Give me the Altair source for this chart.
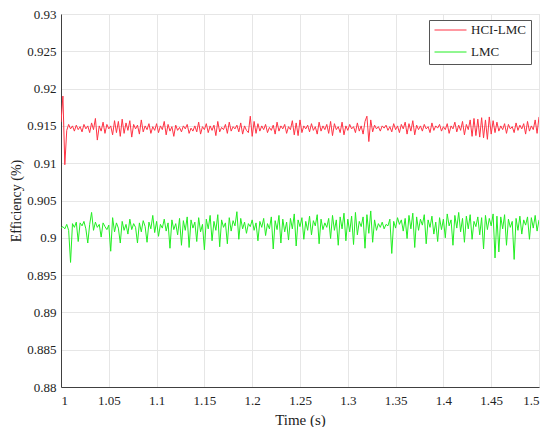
import altair as alt
import pandas as pd

# Sampled every 0.002 s from t = 1.000 to 1.500
hci_lmc = [
    0.9155, 0.9190, 0.9098, 0.9144, 0.9152, 0.9146, 0.9150, 0.9143, 0.9151, 0.9145,
    0.9149, 0.9142, 0.9152, 0.9146, 0.9150, 0.9141, 0.9154, 0.9145, 0.9160, 0.9131,
    0.9150, 0.9143, 0.9155, 0.9140, 0.9152, 0.9146, 0.9150, 0.9138, 0.9157, 0.9141,
    0.9156, 0.9136, 0.9159, 0.9140, 0.9154, 0.9144, 0.9157, 0.9135, 0.9152, 0.9146,
    0.9151, 0.9139, 0.9158, 0.9142, 0.9150, 0.9145, 0.9153, 0.9140, 0.9149, 0.9144,
    0.9153, 0.9141, 0.9150, 0.9145, 0.9156, 0.9138, 0.9152, 0.9143, 0.9149, 0.9136,
    0.9151, 0.9144, 0.9148, 0.9142, 0.9150, 0.9146, 0.9152, 0.9140, 0.9147, 0.9143,
    0.9150, 0.9142, 0.9155, 0.9139, 0.9149, 0.9145, 0.9153, 0.9141, 0.9150, 0.9144,
    0.9151, 0.9137, 0.9156, 0.9142, 0.9148, 0.9145, 0.9152, 0.9140, 0.9155, 0.9143,
    0.9149, 0.9146, 0.9151, 0.9142, 0.9154, 0.9139, 0.9150, 0.9144, 0.9141, 0.9163,
    0.9136, 0.9156, 0.9140, 0.9153, 0.9143, 0.9150, 0.9145, 0.9152, 0.9141, 0.9148,
    0.9144, 0.9151, 0.9139, 0.9155, 0.9143, 0.9150, 0.9146, 0.9152, 0.9140, 0.9149,
    0.9145, 0.9157, 0.9138, 0.9154, 0.9137, 0.9158, 0.9141, 0.9150, 0.9146, 0.9151,
    0.9142, 0.9153, 0.9144, 0.9149, 0.9139, 0.9155, 0.9143, 0.9150, 0.9145, 0.9152,
    0.9140, 0.9156, 0.9137, 0.9153, 0.9145, 0.9149, 0.9141, 0.9155, 0.9138, 0.9150,
    0.9144, 0.9152, 0.9146, 0.9149, 0.9141, 0.9154, 0.9143, 0.9150, 0.9139, 0.9156,
    0.9163, 0.9129, 0.9158, 0.9142, 0.9151, 0.9146, 0.9149, 0.9143, 0.9150, 0.9147,
    0.9151, 0.9144, 0.9149, 0.9142, 0.9153, 0.9145, 0.9150, 0.9141, 0.9152, 0.9146,
    0.9155, 0.9139, 0.9153, 0.9143, 0.9157, 0.9138, 0.9151, 0.9145, 0.9150, 0.9143,
    0.9152, 0.9146, 0.9149, 0.9141, 0.9154, 0.9144, 0.9150, 0.9147, 0.9152, 0.9143,
    0.9149, 0.9145, 0.9153, 0.9140, 0.9150, 0.9146, 0.9155, 0.9142, 0.9151, 0.9144,
    0.9156, 0.9138, 0.9152, 0.9145, 0.9158, 0.9136, 0.9160, 0.9137, 0.9159, 0.9135,
    0.9161, 0.9134, 0.9158, 0.9132, 0.9162, 0.9139, 0.9157, 0.9141, 0.9155, 0.9143,
    0.9150, 0.9145, 0.9153, 0.9140, 0.9152, 0.9146, 0.9149, 0.9141, 0.9154, 0.9144,
    0.9151, 0.9146, 0.9153, 0.9139, 0.9156, 0.9143, 0.9150, 0.9145, 0.9158, 0.9140,
    0.9162,
]

lmc = [
    0.9013, 0.9015, 0.9012, 0.9018, 0.9010, 0.8967, 0.9019, 0.9014, 0.9021, 0.8995,
    0.9020, 0.9016, 0.9022, 0.9012, 0.8993, 0.9018, 0.9034, 0.9010, 0.9021, 0.9014,
    0.9018, 0.9001, 0.9020, 0.9015, 0.9011, 0.9017, 0.8982, 0.9027, 0.9008, 0.9020,
    0.9013, 0.8993, 0.9022, 0.9010, 0.9018, 0.9005, 0.9025, 0.9011, 0.9019, 0.9014,
    0.8993, 0.9020, 0.9008, 0.9023, 0.9015, 0.8994, 0.9021, 0.9012, 0.9030, 0.9007,
    0.9022, 0.9002, 0.9018, 0.9013, 0.9025, 0.9009, 0.9020, 0.8986, 0.9024, 0.9011,
    0.9019, 0.9004, 0.9026, 0.8990, 0.9023, 0.9010, 0.9028, 0.8987, 0.9024, 0.9013,
    0.9021, 0.8995, 0.9027, 0.9008, 0.9018, 0.8984, 0.9025, 0.9012, 0.9030, 0.8996,
    0.9022, 0.9010, 0.9031, 0.8988, 0.9024, 0.9014, 0.9020, 0.8992, 0.9027, 0.9009,
    0.9023, 0.9016, 0.9035, 0.8998, 0.9026, 0.9012, 0.9021, 0.9006, 0.9019, 0.9015,
    0.9024, 0.9010, 0.9020, 0.8996, 0.9022, 0.9014, 0.9026, 0.9003, 0.9019, 0.9012,
    0.9028, 0.8985, 0.9023, 0.9011, 0.9030, 0.8993, 0.9025, 0.9008, 0.9021, 0.8997,
    0.9026, 0.9012, 0.9032, 0.8989, 0.9024, 0.9015, 0.9027, 0.8998, 0.9022, 0.9010,
    0.9029, 0.9004, 0.9023, 0.9016, 0.9031, 0.8992, 0.9025, 0.9011, 0.9020, 0.9014,
    0.9026, 0.8999, 0.9030, 0.9010, 0.9024, 0.8990, 0.9028, 0.9012, 0.9033, 0.8996,
    0.9025, 0.9008, 0.9029, 0.8991, 0.9034, 0.9004, 0.9022, 0.9015, 0.9028, 0.8986,
    0.9031, 0.9006, 0.9036, 0.8994, 0.9024, 0.9010, 0.9019, 0.9014, 0.9021, 0.9012,
    0.9018, 0.9016, 0.9025, 0.8979, 0.9022, 0.9013, 0.9027, 0.9018, 0.9024, 0.9009,
    0.9026, 0.8999, 0.9030, 0.9012, 0.9033, 0.8987, 0.9028, 0.9010, 0.9025, 0.9017,
    0.9031, 0.8992, 0.9024, 0.9014, 0.9029, 0.9005, 0.9021, 0.8995, 0.9027, 0.9011,
    0.9025, 0.9000, 0.9032, 0.9016, 0.9024, 0.8990, 0.9030, 0.9013, 0.9034, 0.9008,
    0.9026, 0.8994, 0.9029, 0.9012, 0.9031, 0.8998, 0.9022, 0.9015, 0.9028, 0.9004,
    0.9027, 0.8985, 0.9030, 0.9011, 0.9026, 0.9016, 0.9032, 0.8973, 0.9029, 0.8981,
    0.9028, 0.9012, 0.9031, 0.8990, 0.9025, 0.9014, 0.9022, 0.8971, 0.9026, 0.9010,
    0.9029, 0.9005, 0.9024, 0.9017, 0.9028, 0.8998, 0.9027, 0.9013, 0.9030, 0.9009,
    0.9024,
]

series_names = ["HCI-LMC", "LMC"]
series_colors = ["#ff3344", "#22ee22"]
x_ticks = [1.0, 1.05, 1.1, 1.15, 1.2, 1.25, 1.3, 1.35, 1.4, 1.45, 1.5]
y_ticks = [0.88, 0.885, 0.89, 0.895, 0.9, 0.905, 0.91, 0.915, 0.92, 0.925, 0.93]

time = [round(1.0 + 0.002 * i, 3) for i in range(len(hci_lmc))]
df = pd.concat([
    pd.DataFrame({"time": time, "eff": hci_lmc, "series": series_names[0]}),
    pd.DataFrame({"time": time, "eff": lmc, "series": series_names[1]}),
])

FONT = "Liberation Serif"

chart = alt.Chart(df).mark_line(strokeWidth=1, clip=True).encode(
    x=alt.X("time:Q",
            scale=alt.Scale(domain=[1.0, 1.5], nice=False, zero=False),
            axis=alt.Axis(values=x_ticks, format="~g", title="Time (s)",
                          ticks=False, labelPadding=7, titlePadding=5)),
    y=alt.Y("eff:Q",
            scale=alt.Scale(domain=[0.88, 0.93], nice=False, zero=False),
            axis=alt.Axis(values=y_ticks, format="~g", title="Efficiency (%)",
                          ticks=False, labelPadding=5, titlePadding=3,
                          titleFontSize=14)),
    color=alt.Color("series:N",
                    scale=alt.Scale(domain=series_names, range=series_colors),
                    legend=alt.Legend(title=None, orient="none", legendX=368, legendY=6,
                                      direction="vertical", symbolType="stroke",
                                      symbolSize=1024, symbolStrokeWidth=1,
                                      clipHeight=10, rowPadding=9, padding=5,
                                      strokeColor="#555555", fillColor="white",
                                      labelFont=FONT, labelFontSize=13,
                                      labelColor="#222222", labelOffset=4)),
    order=alt.Order("time:Q"),
).properties(
    width=478, height=373,
    autosize=alt.AutoSizeParams(type="none"),
    padding={"left": 53, "top": 6, "right": 3, "bottom": 40},
).configure_axis(
    labelFont=FONT, labelFontSize=13, labelColor="#222222",
    titleFont=FONT, titleFontSize=15, titleFontWeight="normal", titleColor="#222222",
    domainColor="#404040", domainWidth=1,
    gridColor="#e6e6e6", gridWidth=1,
).configure_view(stroke="#d8d8d8", strokeWidth=1)

chart.save("out.html", embed_options={"renderer": "svg", "actions": False})
